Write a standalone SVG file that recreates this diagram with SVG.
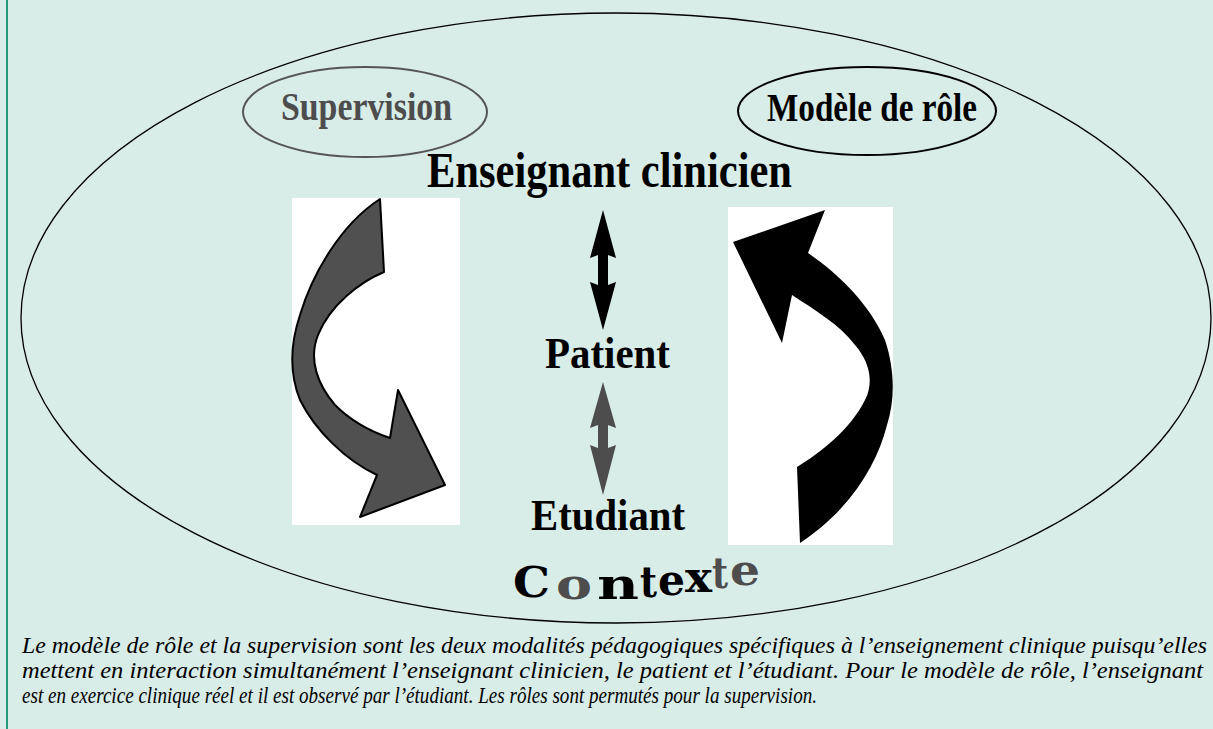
<svg xmlns="http://www.w3.org/2000/svg" width="1213" height="729" viewBox="0 0 1213 729">
<style>
.lbl{font-family:"Liberation Serif","DejaVu Serif",serif;font-weight:bold}
.cap{font-family:"Liberation Serif","DejaVu Serif",serif;font-style:italic;font-size:23px;fill:#000}
.ctx{font-family:"DejaVu Serif","Liberation Serif",serif;font-weight:bold;font-size:42px}
.gray{fill:#4d4d4d}
.blk{fill:#000}
</style>
<rect x="0" y="0" width="1213" height="729" fill="#d8ece8"/>
<line x1="7" y1="0" x2="7" y2="729" stroke="#27987a" stroke-width="2"/>
<g id="context-ellipse">
<ellipse cx="616" cy="318" rx="595" ry="305" fill="none" stroke="#000" stroke-width="1.3"/>
</g>
<g id="supervision">
<ellipse cx="365" cy="112" rx="122" ry="45" fill="none" stroke="#555" stroke-width="2"/>
<text class="lbl gray" x="281" y="120" font-size="40" textLength="171" lengthAdjust="spacingAndGlyphs">Supervision</text>
</g>
<g id="modele-de-role">
<ellipse cx="867" cy="111" rx="129" ry="44" fill="none" stroke="#000" stroke-width="2"/>
<text class="lbl blk" x="767" y="121" font-size="40" textLength="210" lengthAdjust="spacingAndGlyphs">Modèle de rôle</text>
</g>
<g id="enseignant">
<text class="lbl blk" x="427" y="187" font-size="50" textLength="365" lengthAdjust="spacingAndGlyphs">Enseignant clinicien</text>
</g>
<g id="patient">
<text class="lbl blk" x="545" y="368" font-size="44" textLength="125" lengthAdjust="spacingAndGlyphs">Patient</text>
</g>
<g id="etudiant">
<text class="lbl blk" x="531" y="530" font-size="44" textLength="154" lengthAdjust="spacingAndGlyphs">Etudiant</text>
</g>
<g id="contexte">
<text class="ctx blk" x="513" y="597" font-size="44" textLength="37" lengthAdjust="spacingAndGlyphs">C</text>
<text class="ctx gray" x="556" y="599" textLength="36" lengthAdjust="spacingAndGlyphs">o</text>
<text class="ctx blk" x="597" y="599" textLength="42" lengthAdjust="spacingAndGlyphs">n</text>
<text class="ctx blk" x="640" y="597" textLength="17" lengthAdjust="spacingAndGlyphs">t</text>
<text class="ctx blk" x="658" y="595" textLength="27" lengthAdjust="spacingAndGlyphs">e</text>
<text class="ctx blk" x="685" y="592" textLength="27" lengthAdjust="spacingAndGlyphs">x</text>
<text class="ctx gray" x="712" y="588" textLength="16" lengthAdjust="spacingAndGlyphs">t</text>
<text class="ctx gray" x="730" y="585" textLength="30" lengthAdjust="spacingAndGlyphs">e</text>
</g>
<g id="connectors">
<rect x="292" y="198" width="168" height="327" fill="#fff"/>
<path d="M380,199 L384,272 C360,282 330,305 318,335 C308,360 318,385 335,405 C352,422 372,432 390,438 L398,390 L445,485 L360,517 L377,475 C345,460 315,430 300,400 C290,375 290,345 300,315 C312,275 340,225 380,199 Z" fill="#505050" stroke="#000" stroke-width="2" stroke-linejoin="round"/>
<rect x="728" y="207" width="165" height="338" fill="#fff"/>
<path d="M733,242 L825,210 L808,253 C840,275 870,305 885,340 C895,370 895,400 887,425 C877,465 850,510 800,543 L797,467 C820,453 850,430 865,400 C875,380 868,360 855,345 C840,325 815,310 792,295 L782,343 Z" fill="#000"/>
<polygon points="603,210 616,258 608,255 608,285 616,282 603,330 590,282 598,285 598,255 590,258" fill="#000"/>
<polygon points="603,382 616,428 608,425 608,448 616,445 603,495 590,445 598,448 598,425 590,428" fill="#4d4d4d"/>
</g>
<g id="caption">
<text class="cap" x="22" y="653" textLength="1185" lengthAdjust="spacingAndGlyphs">Le modèle de rôle et la supervision sont les deux modalités pédagogiques spécifiques à l’enseignement clinique puisqu’elles</text>
<text class="cap" x="22" y="678" textLength="1181" lengthAdjust="spacingAndGlyphs">mettent en interaction simultanément l’enseignant clinicien, le patient et l’étudiant. Pour le modèle de rôle, l’enseignant</text>
<text class="cap" x="22" y="703" font-size="24" textLength="795" lengthAdjust="spacingAndGlyphs">est en exercice clinique réel et il est observé par l’étudiant. Les rôles sont permutés pour la supervision.</text>
</g>
</svg>
